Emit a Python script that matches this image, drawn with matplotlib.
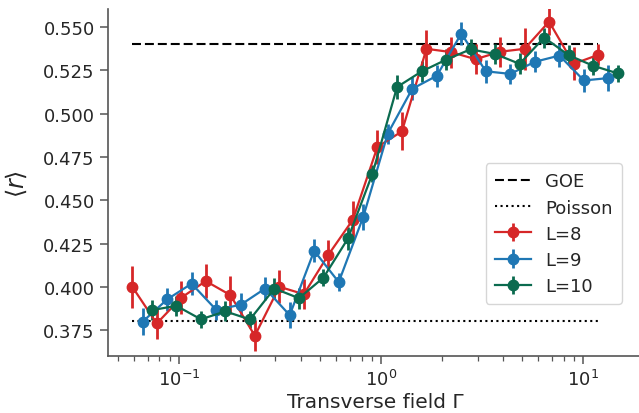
import matplotlib
matplotlib.use("Agg")
import matplotlib.pyplot as plt
from matplotlib.ticker import FixedLocator, FormatStrFormatter

# Transverse field values for each system size
gamma_L8 = [0.0587, 0.0776, 0.1026, 0.1356, 0.1794, 0.2371, 0.3135, 0.4146, 0.5481, 0.7247,
            0.9583, 1.267, 1.675, 2.215, 2.929, 3.873, 5.121, 6.770, 8.952, 11.84]
gamma_L9 = [0.0660, 0.0873, 0.1154, 0.1526, 0.2018, 0.2667, 0.3527, 0.4664, 0.6166, 0.8153,
            1.078, 1.425, 1.884, 2.492, 3.295, 4.357, 5.761, 7.616, 10.07, 13.32]
gamma_L10 = [0.0733, 0.0970, 0.1283, 0.1695, 0.2243, 0.2964, 0.3919, 0.5183, 0.6851, 0.9059,
             1.198, 1.584, 2.094, 2.769, 3.661, 4.841, 6.401, 8.463, 11.19, 14.80]

r_L8 = [0.400, 0.3788, 0.3937, 0.4033, 0.3952, 0.3717, 0.400, 0.3957, 0.4185, 0.4388,
        0.4808, 0.4898, 0.5375, 0.5356, 0.5315, 0.5358, 0.5375, 0.5532, 0.5288, 0.534]
err_L8 = [0.012, 0.009, 0.0095, 0.010, 0.011, 0.009, 0.0096, 0.0087, 0.0087, 0.0106,
          0.0096, 0.011, 0.011, 0.009, 0.0087, 0.0087, 0.012, 0.008, 0.0096, 0.006]

r_L9 = [0.3798, 0.3927, 0.4018, 0.3867, 0.3896, 0.399, 0.3836, 0.4208, 0.4027, 0.4404,
        0.4885, 0.5144, 0.5219, 0.5463, 0.5245, 0.523, 0.5300, 0.5336, 0.5192, 0.5206]
err_L9 = [0.0079, 0.0067, 0.0067, 0.0058, 0.0067, 0.0067, 0.0077, 0.0067, 0.0054, 0.0077,
          0.0058, 0.0067, 0.0063, 0.0067, 0.0067, 0.006, 0.006, 0.0067, 0.0067, 0.0077]

r_L10 = [0.3865, 0.389, 0.3812, 0.3858, 0.3811, 0.399, 0.3934, 0.4053, 0.4279, 0.4654,
         0.5154, 0.5244, 0.5312, 0.5372, 0.5345, 0.5288, 0.5440, 0.5338, 0.5277, 0.5233]
err_L10 = [0.0058, 0.0058, 0.0048, 0.0058, 0.005, 0.0058, 0.006, 0.005, 0.0067, 0.005,
           0.0067, 0.006, 0.006, 0.006, 0.006, 0.006, 0.0058, 0.0058, 0.0054, 0.005]

goe_value = 0.540
poisson_value = 0.380
series_labels = ["L=8", "L=9", "L=10"]
y_ticks = [0.375, 0.400, 0.425, 0.450, 0.475, 0.500, 0.525, 0.550]

colors = ["#d62728", "#1f77b4", "#0b6b4f"]
text_color = "#262626"

plt.rcParams["font.family"] = ["DejaVu Sans"]
plt.rcParams["mathtext.fontset"] = "dejavusans"

fig = plt.figure(figsize=(6.39, 4.14), dpi=100)
ax = fig.add_axes([108 / 639, 1 - 357 / 414, 534 / 639, 347 / 414])

goe_line, = ax.plot([gamma_L8[0], gamma_L8[-1]], [goe_value, goe_value], ls=(0, (4.3, 1.9)),
                    color="black", lw=1.5, label="GOE")
poi_line, = ax.plot([gamma_L8[0], gamma_L8[-1]], [poisson_value, poisson_value], ls=(0, (1, 1.65)),
                    color="black", lw=1.5, label="Poisson")

handles = [goe_line, poi_line]
for g, r, e, c, lab in zip([gamma_L8, gamma_L9, gamma_L10], [r_L8, r_L9, r_L10],
                           [err_L8, err_L9, err_L10], colors, series_labels):
    h = ax.errorbar(g, r, yerr=e, color=c, marker="o", ms=7.5, lw=1.6, elinewidth=2.0,
                    capsize=0, label=lab)
    handles.append(h)

ax.set_xscale("log")
ax.set_ylim(0.3600, 0.5605)
ax.yaxis.set_major_locator(FixedLocator(y_ticks))
ax.yaxis.set_major_formatter(FormatStrFormatter("%.3f"))

for s in ["top", "right"]:
    ax.spines[s].set_visible(False)
for s in ["left", "bottom"]:
    ax.spines[s].set_color("#555555")
    ax.spines[s].set_linewidth(1.2)

ax.tick_params(axis="both", which="major", labelsize=13, colors="#555555", labelcolor=text_color,
               length=6, width=1.1)
ax.tick_params(axis="x", which="minor", colors="#555555", length=3.5, width=0.9)

ax.set_xlabel("Transverse field Γ", fontsize=14.5, color=text_color, labelpad=2)
ax.set_ylabel(r"$\langle r\rangle$", fontsize=17, color=text_color, labelpad=10)

leg = ax.legend(handles=handles, loc="lower right", bbox_to_anchor=(0.9625, 0.1499),
                borderaxespad=0, fontsize=13, frameon=True, fancybox=True,
                borderpad=0.5, labelspacing=0.45)
leg.get_frame().set_edgecolor("#cccccc")
for t in leg.get_texts():
    t.set_color(text_color)

fig.savefig("out.png", dpi=100)
